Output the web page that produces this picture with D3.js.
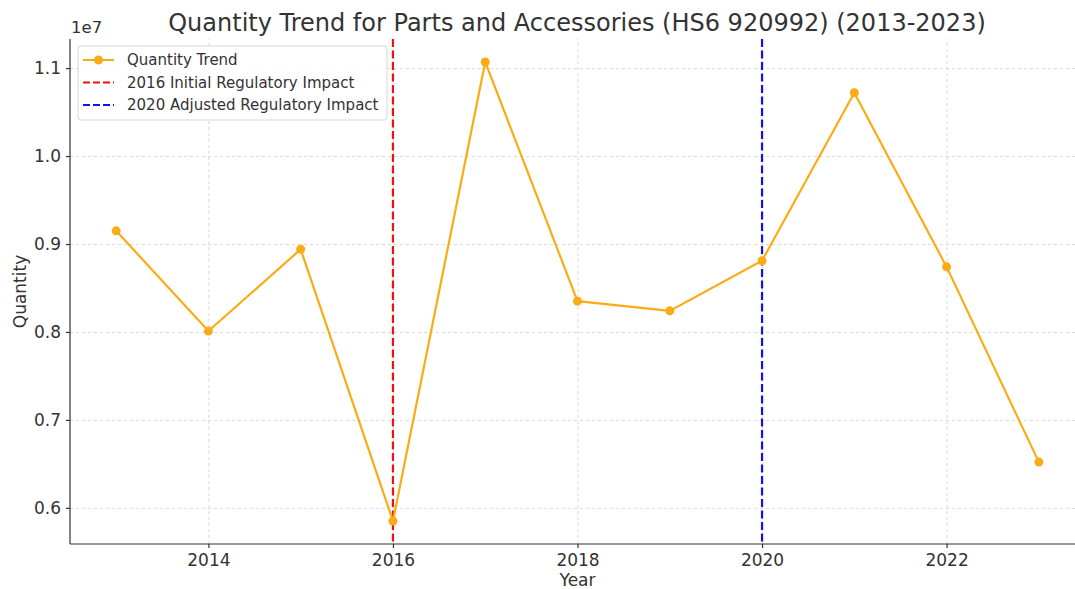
<!DOCTYPE html>
<meta charset="utf-8">
<style>
body { margin: 0; background: #fff; font-family: "DejaVu Sans", sans-serif; }
.grid line { stroke: #cfcfcf; stroke-dasharray: 3,3; stroke-width: 0.8; }
.grid path { display: none; }
.axis text { font-size: 17px; fill: #333; font-family: "DejaVu Sans", sans-serif; }
.axis line, .axis path { stroke: #333; stroke-width: 1.2; }
</style>
<body>
<script src="https://d3js.org/d3.v7.min.js"></script>
<script>

// data
var years = [2013, 2014, 2015, 2016, 2017, 2018, 2019, 2020, 2021, 2022, 2023];
var quantities = [9.15e6, 8.01e6, 8.94e6, 5.85e6, 11.07e6, 8.35e6, 8.24e6, 8.81e6, 10.72e6, 8.74e6, 6.52e6];
var xTicks = [2014, 2016, 2018, 2020, 2022];
var yTicks = [0.6e7, 0.7e7, 0.8e7, 0.9e7, 1.0e7, 1.1e7];
var markerYears = [2016, 2020];
var markerLabels = ["2016 Initial Regulatory Impact", "2020 Adjusted Regulatory Impact"];
var markerColors = ["#f01010", "#1010f0"];

var W = 1075, H = 589;
var margin = {top: 39, right: -10, bottom: 45, left: 70};
var width = W - margin.left - margin.right;
var height = H - margin.top - margin.bottom;

var svg = d3.select("body").append("svg")
    .attr("width", W)
    .attr("height", H);

var g = svg.append("g")
    .attr("transform", "translate(" + margin.left + "," + margin.top + ")");

// matplotlib style 5% padding
var xMin = d3.min(years), xMax = d3.max(years);
var xPad = (xMax - xMin) * 0.05;
var x = d3.scaleLinear().domain([xMin - xPad, xMax + xPad]).range([0, width]);

var yMin = d3.min(quantities), yMax = d3.max(quantities);
var yPad = (yMax - yMin) * 0.05;
var y = d3.scaleLinear().domain([yMin - yPad, yMax + yPad]).range([height, 0]);

// grid
g.append("g").attr("class", "grid")
  .attr("transform", "translate(0," + height + ")")
  .call(d3.axisBottom(x).tickValues(xTicks).tickSize(-height).tickFormat(""));
g.append("g").attr("class", "grid")
  .call(d3.axisLeft(y).tickValues(yTicks).tickSize(-width).tickFormat(""));

// axes
var xAxis = g.append("g").attr("class", "axis")
  .attr("transform", "translate(0," + height + ")")
  .call(d3.axisBottom(x).tickValues(xTicks).tickSize(4).tickPadding(6).tickFormat(d3.format("d")));
xAxis.select(".domain").attr("d", "M0,0H" + width);

var yAxis = g.append("g").attr("class", "axis")
  .call(d3.axisLeft(y).tickValues(yTicks).tickSize(4).tickPadding(5)
    .tickFormat(function(d) { return (d / 1e7).toFixed(1); }));
yAxis.select(".domain").attr("d", "M0,0V" + height);

// regulatory lines
markerYears.forEach(function(yr, i) {
  g.append("line")
    .attr("x1", x(yr)).attr("x2", x(yr))
    .attr("y1", 0).attr("y2", height)
    .attr("stroke", markerColors[i])
    .attr("stroke-width", 2.2)
    .attr("stroke-dasharray", "8,3.5");
});

// trend line
var line = d3.line()
  .x(function(d, i) { return x(years[i]); })
  .y(function(d) { return y(d); });

g.append("path")
  .datum(quantities)
  .attr("fill", "none")
  .attr("stroke", "#fbab15")
  .attr("stroke-width", 2.2)
  .attr("d", line);

g.selectAll(".dot")
  .data(quantities)
  .enter().append("circle")
    .attr("class", "dot")
    .attr("cx", function(d, i) { return x(years[i]); })
    .attr("cy", function(d) { return y(d); })
    .attr("r", 4.5)
    .attr("fill", "#fbab15");

// title and labels
svg.append("text")
  .attr("x", 577)
  .attr("y", 31)
  .attr("text-anchor", "middle")
  .style("font-size", "24px")
  .style("fill", "#333")
  .text("Quantity Trend for Parts and Accessories (HS6 920992) (2013-2023)");

svg.append("text")
  .attr("x", 71)
  .attr("y", 33)
  .style("font-size", "16.5px")
  .style("fill", "#333")
  .text("1e7");

svg.append("text")
  .attr("x", margin.left + x(2018))
  .attr("y", 586)
  .attr("text-anchor", "middle")
  .style("font-size", "17px")
  .style("fill", "#333")
  .text("Year");

svg.append("text")
  .attr("transform", "translate(26," + (margin.top + height / 2) + ") rotate(-90)")
  .attr("text-anchor", "middle")
  .style("font-size", "17px")
  .style("fill", "#333")
  .text("Quantity");

// legend
var legend = g.append("g").attr("transform", "translate(8,7)");
legend.append("rect")
  .attr("width", 309).attr("height", 74)
  .attr("rx", 3)
  .attr("fill", "#fff").attr("fill-opacity", 0.85)
  .attr("stroke", "#d6d6d6");

var items = [{label: "Quantity Trend", color: "#fbab15", dash: null, dot: true}]
  .concat(markerLabels.map(function(l, i) { return {label: l, color: markerColors[i], dash: "7,3", dot: false}; }));

var rows = legend.selectAll(".row").data(items).enter().append("g")
  .attr("transform", function(d, i) { return "translate(0," + (14 + i * 22.5) + ")"; });
rows.append("line")
  .attr("x1", 5).attr("x2", 36)
  .attr("stroke", function(d) { return d.color; })
  .attr("stroke-width", 2)
  .attr("stroke-dasharray", function(d) { return d.dash; });
rows.filter(function(d) { return d.dot; }).append("circle")
  .attr("cx", 20.5).attr("r", 4.5)
  .attr("fill", function(d) { return d.color; });
rows.append("text")
  .attr("x", 49).attr("y", 5)
  .style("font-size", "15px")
  .style("fill", "#333")
  .text(function(d) { return d.label; });

</script>
